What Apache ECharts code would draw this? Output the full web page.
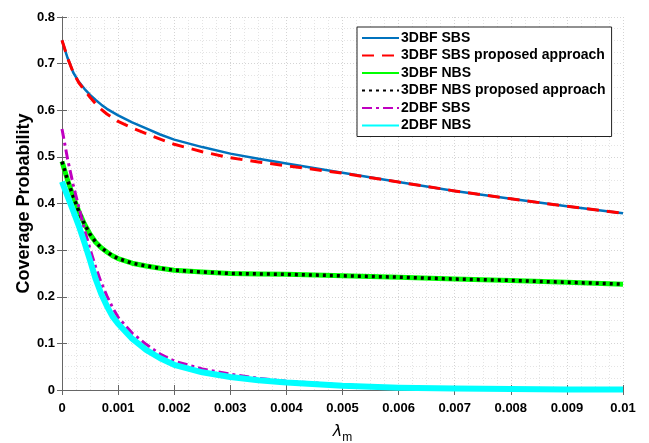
<!DOCTYPE html>
<html>
<head>
<meta charset="utf-8">
<script src="https://cdn.jsdelivr.net/npm/echarts@6/dist/echarts.min.js"></script>
<style>
html,body{margin:0;padding:0;background:#fff;}
#chart{width:649px;height:443px;}
</style>
</head>
<body>
<div id="chart"></div>
<script>
// lambda_m sample points
const lambdaM = [0, 0.0001, 0.0002, 0.0003, 0.0004, 0.0005, 0.0006, 0.0007, 0.0008, 0.0009, 0.001, 0.00125, 0.0015, 0.00175, 0.002, 0.0025, 0.003, 0.0035, 0.004, 0.005, 0.006, 0.007, 0.008, 0.009, 0.01];

const sbs3d     = [0.75, 0.712, 0.681, 0.661, 0.646, 0.633, 0.622, 0.612, 0.603, 0.596, 0.589, 0.574, 0.561, 0.548, 0.537, 0.521, 0.507, 0.496, 0.486, 0.466, 0.446, 0.427, 0.410, 0.394, 0.379];
const sbs3dProp = [0.75, 0.712, 0.681, 0.659, 0.643, 0.628, 0.614, 0.602, 0.592, 0.584, 0.576, 0.562, 0.550, 0.538, 0.527, 0.511, 0.498, 0.489, 0.481, 0.465, 0.446, 0.427, 0.410, 0.394, 0.379];
const nbs3d     = [0.49, 0.450, 0.415, 0.383, 0.356, 0.334, 0.317, 0.305, 0.296, 0.288, 0.282, 0.272, 0.266, 0.261, 0.257, 0.253, 0.250, 0.249, 0.248, 0.245, 0.242, 0.238, 0.235, 0.231, 0.227];
const nbs3dProp = [0.49, 0.450, 0.415, 0.383, 0.356, 0.334, 0.317, 0.305, 0.296, 0.288, 0.282, 0.272, 0.266, 0.261, 0.257, 0.253, 0.250, 0.249, 0.248, 0.245, 0.242, 0.238, 0.235, 0.231, 0.227];
const sbs2d     = [0.56, 0.495, 0.440, 0.392, 0.345, 0.302, 0.264, 0.230, 0.202, 0.177, 0.156, 0.122, 0.098, 0.077, 0.062, 0.045, 0.034, 0.025, 0.019, 0.011, 0.006, 0.004, 0.003, 0.002, 0.001];
const nbs2d     = [0.447, 0.415, 0.384, 0.352, 0.316, 0.278, 0.238, 0.206, 0.180, 0.158, 0.142, 0.110, 0.086, 0.068, 0.054, 0.038, 0.028, 0.021, 0.016, 0.009, 0.005, 0.003, 0.002, 0.001, 0.001];

const seriesNames = ['3DBF SBS', '3DBF SBS proposed approach', '3DBF NBS', '3DBF NBS proposed approach', '2DBF SBS', '2DBF NBS'];
const xTickLabels = ['0', '0.001', '0.002', '0.003', '0.004', '0.005', '0.006', '0.007', '0.008', '0.009', '0.01'];
const yTickLabels = ['0', '0.1', '0.2', '0.3', '0.4', '0.5', '0.6', '0.7', '0.8'];

const pair = arr => lambdaM.map((x, i) => [x, arr[i]]);

const labelFont = {fontFamily: 'Liberation Sans, Arial, sans-serif', fontWeight: 'bold', fontSize: 13, color: '#000'};
const axisLineStyle = {lineStyle: {color: '#666', width: 1}};
const tickStyle = {inside: true, length: 5, lineStyle: {color: '#666'}};
const gridMajor = {show: true, lineStyle: {color: '#d4d4d4', type: [1, 2], width: 1}};
const gridMinor = {show: true, lineStyle: {color: '#e4e4e4', type: [1, 2], width: 1}};

function mkLine(name, data, color, width, type, z) {
  return {
    name, type: 'line', data: pair(data), symbol: 'none', smooth: false,
    lineStyle: {color, width, type, cap: 'butt', join: 'round'},
    itemStyle: {color, opacity: 0}, z, animation: false
  };
}

const chart = echarts.init(document.getElementById('chart'), null, {renderer: 'canvas'});
chart.setOption({
  backgroundColor: '#fff',
  animation: false,
  grid: {left: 62, right: 26, top: 17, bottom: 53, containLabel: false, outerBoundsMode: 'none'},
  legend: {
    orient: 'vertical', left: 357, top: 27,
    data: seriesNames,
    backgroundColor: '#fff', borderColor: '#222', borderWidth: 1,
    padding: [4, 6, 4, 4], itemGap: 3.5, itemWidth: 37, itemHeight: 14,
    itemStyle: {opacity: 0},
    textStyle: {fontFamily: 'Liberation Sans, Arial, sans-serif', fontWeight: 'bold', fontSize: 14, color: '#000', padding: [0, 0, 0, -3]}
  },
  xAxis: [{
    type: 'value', min: 0, max: 0.01, interval: 0.001,
    name: '{l|λ}{s|m}', nameLocation: 'middle', nameGap: 30,
    nameTextStyle: {rich: {
      l: {fontFamily: 'DejaVu Sans, sans-serif', fontSize: 16, color: '#000', fontStyle: 'italic'},
      s: {fontFamily: 'Liberation Sans, Arial, sans-serif', fontSize: 12, color: '#000', padding: [12, 0, 0, 0]}
    }},
    axisLine: axisLineStyle, axisTick: tickStyle,
    axisLabel: Object.assign({margin: 12, formatter: v => xTickLabels[Math.round(v / 0.001)]}, labelFont),
    splitLine: gridMajor, minorTick: {show: false, splitNumber: 4}, minorSplitLine: gridMinor
  }, {
    type: 'value', min: 0, max: 0.01, interval: 0.001, position: 'top',
    axisLine: axisLineStyle, axisTick: tickStyle,
    axisLabel: {show: false}, splitLine: {show: false}
  }],
  yAxis: [{
    type: 'value', min: 0, max: 0.8, interval: 0.1,
    name: 'Coverage Probability', nameLocation: 'middle', nameGap: 29, nameMoveOverlap: false,
    nameTextStyle: {fontFamily: 'Liberation Sans, Arial, sans-serif', fontWeight: 'bold', fontSize: 18, color: '#000'},
    axisLine: axisLineStyle, axisTick: tickStyle,
    axisLabel: Object.assign({margin: 7, formatter: v => yTickLabels[Math.round(v / 0.1)]}, labelFont),
    splitLine: gridMajor, minorTick: {show: false, splitNumber: 4}, minorSplitLine: gridMinor
  }, {
    type: 'value', min: 0, max: 0.8, interval: 0.1, position: 'right',
    axisLine: axisLineStyle, axisTick: tickStyle,
    axisLabel: {show: false}, splitLine: {show: false}
  }],
  series: [
    mkLine(seriesNames[0], sbs3d, '#0072BD', 2.5, 'solid', 2),
    mkLine(seriesNames[1], sbs3dProp, '#FF0000', 3, [12, 8], 3),
    mkLine(seriesNames[2], nbs3d, '#00FF00', 5, 'solid', 4),
    mkLine(seriesNames[3], nbs3dProp, '#000000', 3.5, [3, 4], 5),
    mkLine(seriesNames[4], sbs2d, '#C000C0', 3, [10, 4, 3, 4], 6),
    mkLine(seriesNames[5], nbs2d, '#00FFFF', 6, 'solid', 7)
  ]
});
</script>
</body>
</html>
